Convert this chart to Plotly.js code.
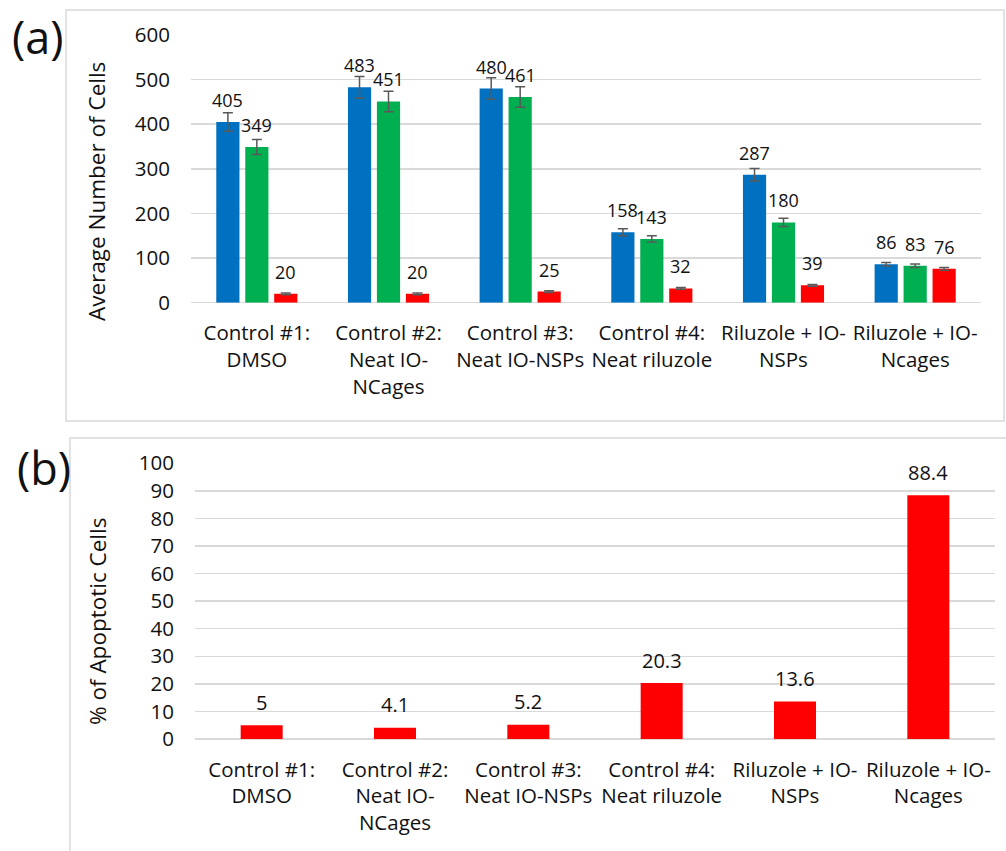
<!DOCTYPE html>
<html>
<head>
<meta charset="utf-8">
<script src="https://cdn.plot.ly/plotly-3.0.1.min.js"></script>
<style>html,body{margin:0;padding:0;background:#fff;}#chart{width:1006px;height:851px;}</style>
</head>
<body>
<div id="chart"></div>
<script>
// ---- data ----
const categories = ["Control #1:<br>DMSO", "Control #2:<br>Neat IO-<br>NCages", "Control #3:<br>Neat IO-NSPs", "Control #4:<br>Neat riluzole", "Riluzole + IO-<br>NSPs", "Riluzole + IO-<br>Ncages"];
const blueVals  = [405, 483, 480, 158, 287, 86];
const greenVals = [349, 451, 461, 143, 180, 83];
const redVals   = [20, 20, 25, 32, 39, 76];
const blueErr   = [21, 24, 24, 8, 14, 4];
const greenErr  = [17, 23, 23, 7, 9, 4];
const redErr    = [2, 2, 2, 2, 2, 3];
const apoptotic = [5, 4.1, 5.2, 20.3, 13.6, 88.4];
const yTitleA = "Average Number of Cells";
const yTitleB = "% of Apoptotic Cells";

// ---- styles ----
const FONT = "Open Sans";
const TXT = "#111111";
const GRID = "#d9d9d9";
const errStyle = (arr) => ({type: "data", array: arr, visible: true, color: "#595959", thickness: 1.5, width: 5});

const seriesA = [
  {vals: blueVals, err: blueErr, color: "#0070C0"},
  {vals: greenVals, err: greenErr, color: "#00B050"},
  {vals: redVals, err: redErr, color: "#FF0000"}
];

const traces = seriesA.map(s => ({
  type: "bar", x: categories, y: s.vals, xaxis: "x", yaxis: "y",
  marker: {color: s.color}, error_y: errStyle(s.err), hoverinfo: "skip"
}));
traces.push({
  type: "bar", x: categories, y: apoptotic, xaxis: "x2", yaxis: "y2",
  marker: {color: "#FF0000"}, hoverinfo: "skip", width: 0.315
});

const annotations = [];
const offsets = [-29, 0, 29];
seriesA.forEach((s, k) => {
  s.vals.forEach((v, i) => {
    annotations.push({x: categories[i], y: v, xref: "x", yref: "y", text: String(v), showarrow: false,
      xanchor: "center", yanchor: "middle",
      xshift: offsets[k], yshift: 22, font: {family: FONT, size: 18, color: TXT}});
  });
});
apoptotic.forEach((v, i) => {
  annotations.push({x: categories[i], y: v, xref: "x2", yref: "y2", text: String(v), showarrow: false,
    xanchor: "center", yanchor: "middle",
    yshift: 23, font: {family: FONT, size: 20, color: TXT}});
});
const paperLabel = (x, y, text, size, angle) => ({x: x/1006, y: 1 - y/851, xref: "paper", yref: "paper", text: text,
  textangle: angle, showarrow: false, xanchor: "center", yanchor: "middle", font: {family: FONT, size: size, color: TXT}});
annotations.push(paperLabel(97, 192, yTitleA, 22.5, -90));
annotations.push(paperLabel(97, 622, yTitleB, 22.5, -90));
annotations.push(paperLabel(38, 37, "(a)", 45, 0));
annotations.push(paperLabel(44, 467, "(b)", 45, 0));

const tickFont = {family: FONT, size: 20.5, color: TXT};
const layout = {
  width: 1006, height: 851,
  margin: {l: 0, r: 0, t: 0, b: 0},
  paper_bgcolor: "#ffffff", plot_bgcolor: "#ffffff",
  showlegend: false,
  barmode: "group", bargap: 0.34, bargroupgap: 0.2,
  font: {family: FONT, color: TXT},
  xaxis: {domain: [191/1006, 981/1006], anchor: "y", type: "category", tickangle: 0, tickfont: tickFont,
    showgrid: false, showline: false, ticks: "", ticklabelstandoff: 16, automargin: false, fixedrange: true},
  yaxis: {domain: [1 - 302.7/851, 1 - 35/851], anchor: "x", range: [0, 600], dtick: 100, tickfont: tickFont,
    showgrid: true, gridcolor: GRID, gridwidth: 1.5, zeroline: true, zerolinecolor: GRID, zerolinewidth: 1.5,
    showline: false, ticks: "", ticklabelstandoff: 20, automargin: false, fixedrange: true},
  xaxis2: {domain: [195/1006, 995/1006], anchor: "y2", type: "category", tickangle: 0, tickfont: tickFont,
    showgrid: false, showline: false, ticks: "", ticklabelstandoff: 16, automargin: false, fixedrange: true},
  yaxis2: {domain: [1 - 739/851, 1 - 463.3/851], anchor: "x2", range: [0, 100], dtick: 10, tickfont: tickFont,
    showgrid: true, gridcolor: GRID, gridwidth: 1.5, zeroline: true, zerolinecolor: GRID, zerolinewidth: 1.5,
    showline: false, ticks: "", ticklabelstandoff: 20, automargin: false, fixedrange: true},
  shapes: [
    {type: "rect", xref: "paper", yref: "paper", x0: 66/1006, x1: 1004/1006, y0: 1 - 421/851, y1: 1 - 10/851,
      line: {color: GRID, width: 1.5}, fillcolor: "rgba(0,0,0,0)", layer: "below"},
    {type: "rect", xref: "paper", yref: "paper", x0: 70/1006, x1: 1.02, y0: -0.02, y1: 1 - 438/851,
      line: {color: GRID, width: 1.5}, fillcolor: "rgba(0,0,0,0)", layer: "below"}
  ],
  annotations: annotations
};

Plotly.newPlot("chart", traces, layout, {staticPlot: true, displayModeBar: false});
</script>
</body>
</html>
